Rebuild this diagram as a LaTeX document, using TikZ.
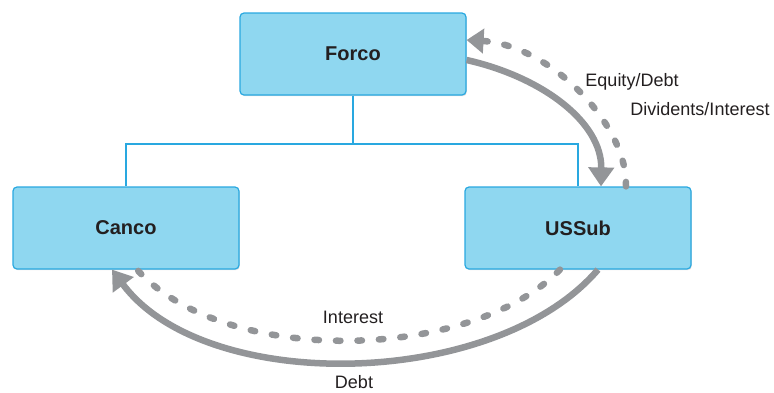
\documentclass[tikz,border=0pt]{standalone}
\usepackage{fontspec}
\setmainfont{Liberation Sans}
\usetikzlibrary{arrows.meta,shadows}

\definecolor{caixa}{HTML}{8FD7F0}
\definecolor{borda}{HTML}{29A8E0}
\definecolor{seta}{HTML}{939598}
\definecolor{texto}{HTML}{231F20}

\tikzset{
  empresa/.style={draw=borda, fill=caixa, line width=1.2pt, rounded corners=4pt,
    minimum width=226pt, minimum height=82pt, text=texto,
    font=\fontsize{20}{24}\selectfont\bfseries,
    drop shadow={shadow xshift=0.8pt, shadow yshift=-1.2pt, opacity=0.25}},
  ligacao/.style={draw=borda, line width=1.2pt},
  fluxo/.style={draw=seta, line width=6.5pt, -{Triangle[length=19pt,width=25pt]}},
  retorno/.style={draw=seta, line width=6.5pt, line cap=round, dash pattern=on 4.5pt off 17pt},
  rotulo/.style={font=\fontsize{18}{22}\selectfont, text=texto, inner sep=0pt, anchor=base}
}

\begin{document}
\begin{tikzpicture}[x=1pt, y=-1pt]
    \useasboundingbox (0,0) rectangle (774,392);

    % Organograma
    \coordinate (juncao) at (353,144);
    \node[empresa] (forco) at (353,54) {Forco};
    \node[empresa] (canco) at (126,228) {Canco};
    \node[empresa] (ussub) at (578,228) {USSub};
    \draw[ligacao] (forco.south) -- (juncao);
    \draw[ligacao] (canco.north) -- (canco.north |- juncao) -- (ussub.north |- juncao) -- (ussub.north);

    % Setas entre Forco e USSub
    \draw[fluxo] ([yshift=-6pt]forco.east) .. controls (542,77) and (602,122) .. ([xshift=23pt]ussub.north);
    \draw[retorno, -{Triangle[length=17pt,width=24pt]}] ([xshift=48pt]ussub.north) .. controls (628,125) and (550,45) .. ([yshift=14pt]forco.east);

    % Setas entre USSub e Canco
    \draw[fluxo] ([xshift=20pt]ussub.south) .. controls (495,390) and (205,395) .. ([xshift=-14pt]canco.south);
    \draw[retorno] ([xshift=-18pt]ussub.south) .. controls (470,362) and (225,367) .. ([xshift=11pt]canco.south);

    % Rótulos
    \node[rotulo] (equity) at (632,86.5) {Equity/Debt};
    \node[rotulo] (dividendos) at (700,115) {Dividents/Interest};
    \node[rotulo] (juros) at (353,323) {Interest};
    \node[rotulo] (divida) at (354,388) {Debt};
\end{tikzpicture}
\end{document}
